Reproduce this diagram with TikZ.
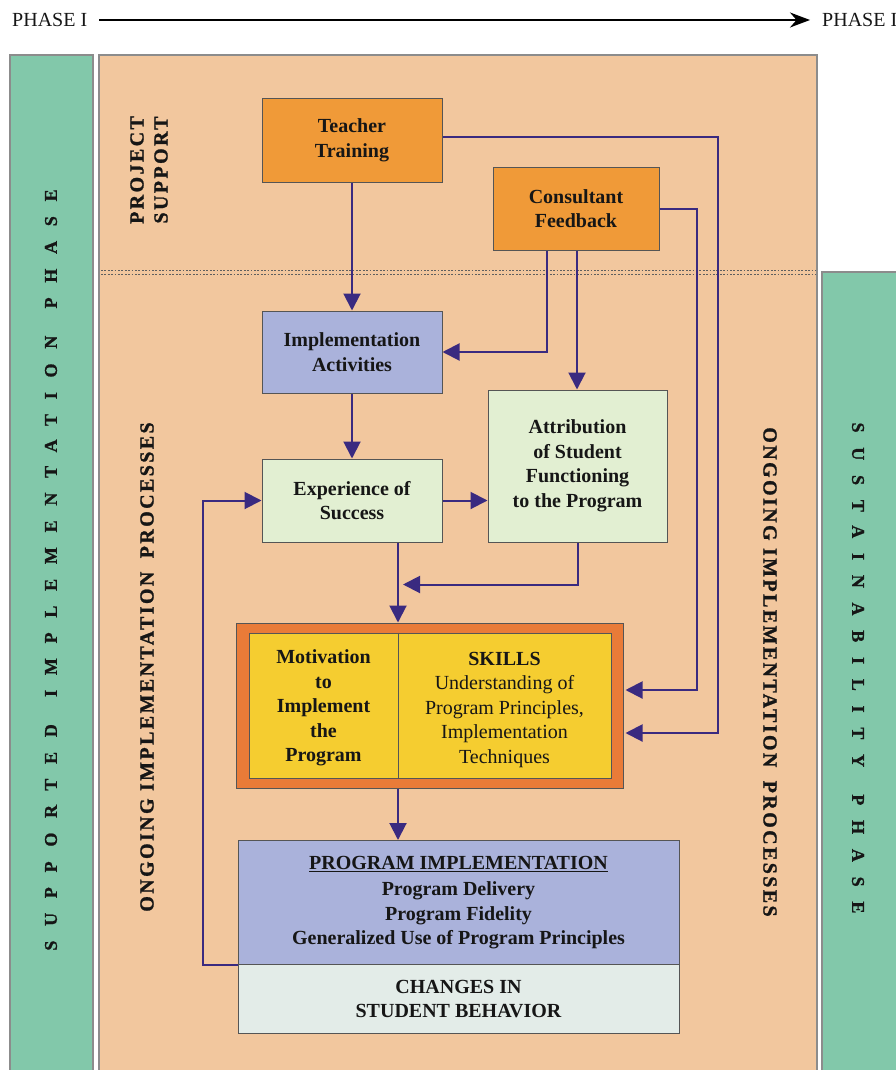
\documentclass[tikz,border=0pt]{standalone}
\usepackage{fontspec}
\setmainfont{Liberation Serif}
\newfontfamily\trackedbold[LetterSpace=12, FakeBold=1.2]{Liberation Serif Bold}
\newfontfamily\phasebold[LetterSpace=82, FakeBold=1]{Liberation Serif Bold}
\usetikzlibrary{arrows.meta}

\definecolor{phasegreen}{HTML}{82C8AA}
\definecolor{panelpeach}{HTML}{F2C79E}
\definecolor{supportorange}{HTML}{F09A38}
\definecolor{lavender}{HTML}{AAB2DB}
\definecolor{palegreen}{HTML}{E2EFD2}
\definecolor{skillrim}{HTML}{E97B38}
\definecolor{skillfill}{HTML}{F5CD30}
\definecolor{palegrey}{HTML}{E3ECE8}
\definecolor{flowblue}{HTML}{3A2A80}
\definecolor{edgegrey}{HTML}{555555}
\definecolor{panelrim}{HTML}{8C8C8C}
\definecolor{dotgrey}{HTML}{5E5E5E}
\definecolor{ink}{HTML}{161616}

\newcommand{\boxfont}{\fontsize{20}{24.5}\selectfont\bfseries}
\newcommand{\plainfont}{\fontsize{20}{24.5}\selectfont}

\begin{document}
\begin{tikzpicture}[x=1pt,y=-1pt,
  every node/.style={text=ink},
  panel/.style={draw=panelrim, line width=1.2pt},
  box/.style={draw=edgegrey, line width=1pt, align=center, inner sep=0pt, font=\boxfont},
  arr/.style={draw=flowblue, line width=2pt, -{Triangle[length=17pt,width=17pt]}},
  dotrow/.style={draw=dotgrey, line width=1.8pt, dash pattern=on 1.8pt off 1.6pt},
  sidelabel/.style={font=\trackedbold\fontsize{20}{24}\selectfont},
  phaselabel/.style={font=\phasebold\fontsize{18}{22}\selectfont}]

\clip (0,0) rectangle (896,1070);

% header timeline
\node[font=\plainfont, anchor=west, inner sep=0pt] (p1) at (12,20) {PHASE I};
\node[font=\plainfont, anchor=west, inner sep=0pt] (p2) at (822,20) {PHASE I};
\draw[line width=1.8pt, -{Stealth[length=20pt,width=15pt]}] ([xshift=12pt]p1.east) -- ([xshift=-12pt]p2.west);

% background panels
\fill[phasegreen] (10,55) rectangle (93,1080);
\draw[panel] (10,1080) -- (10,55) -- (93,55) -- (93,1080);
\fill[panelpeach] (99,55) rectangle (817,1080);
\draw[panel] (99,1080) -- (99,55) -- (817,55) -- (817,1080);
\fill[phasegreen] (822,272) rectangle (905,1080);
\draw[panel] (822,1080) -- (822,272) -- (905,272);

% boundary between project support and ongoing processes
\draw[dotrow] (101,270.5) -- (816,270.5);
\draw[dotrow] (101,274.5) -- (816,274.5);

% side labels
\node[phaselabel, rotate=90] (sup) at (51,570) {SUPPORTED\hspace{8pt} IMPLEMENTATION\hspace{8pt} PHASE};
\node[phaselabel, rotate=-90] (sus) at (858,668) {SUSTAINABILITY\hspace{8pt} PHASE};
\node[sidelabel, rotate=90, align=center] (ps) at (149,170) {PROJECT\\SUPPORT};
\node[sidelabel, rotate=90] (oipl) at (147,667) {ONGOING IMPLEMENTATION\hspace{6pt} PROCESSES};
\node[sidelabel, rotate=-90] (oipr) at (770,672) {ONGOING IMPLEMENTATION\hspace{6pt} PROCESSES};

% process boxes
\node[box, fill=supportorange, minimum width=180pt, minimum height=83pt] (tt) at (352,140.5) {Teacher\\Training};
\node[box, fill=supportorange, minimum width=166pt, minimum height=83pt] (cf) at (576,208.5) {Consultant\\Feedback};
\node[box, fill=lavender, minimum width=180pt, minimum height=82pt] (ia) at (352,352) {Implementation\\Activities};
\node[box, fill=palegreen, minimum width=180pt, minimum height=83pt] (es) at (352,500.5) {Experience of\\Success};
\node[box, fill=palegreen, minimum width=179pt, minimum height=152pt] (at) at (577.5,466) {Attribution\\of Student\\Functioning\\to the Program};

% motivation and skills
\node[box, fill=skillrim, minimum width=387pt, minimum height=165pt] (so) at (429.5,705.5) {};
\node[box, fill=skillfill, minimum width=362pt, minimum height=145pt] (si) at (430,705.5) {};
\draw[edgegrey, line width=1pt] ([xshift=-32pt]si.north) -- ([xshift=-32pt]si.south);
\node[font=\boxfont, align=center] (mot) at (323.5,708) {Motivation\\to\\Implement\\the\\Program};
\node[font=\plainfont, align=center] (skl) at (504.5,709.5) {\textbf{SKILLS}\\Understanding of\\Program Principles,\\Implementation\\Techniques};

% implementation outcome
\node[box, fill=lavender, minimum width=441pt, minimum height=124pt] (pi) at (458.5,902.5)
  {\underline{PROGRAM IMPLEMENTATION}\\[2pt]Program Delivery\\Program Fidelity\\Generalized Use of Program Principles};
\node[box, fill=palegrey, minimum width=441pt, minimum height=69pt] (ch) at (458.5,999) {CHANGES IN\\STUDENT BEHAVIOR};

% connectors
\draw[arr] (tt.south) -- (ia.north);
\draw[arr] ([yshift=3.5pt]tt.east) -- ++(275,0) |- ([yshift=-27.5pt,xshift=2pt]so.east);
\draw[arr] (cf.east) -- ++(37,0) |- ([yshift=15.5pt,xshift=2pt]so.east);
\draw[arr] ([xshift=-29pt]cf.south) |- (ia.east);
\draw[arr] ([xshift=1pt]cf.south) -- ([xshift=1pt]cf.south |- at.north);
\draw[arr] (ia.south) -- (es.north);
\draw[arr] (es.east) -- (es.east -| at.west);
\draw[arr] ([xshift=46pt]es.south) -- ([xshift=46pt]es.south |- so.north);
\draw[arr] (at.south) |- ([xshift=51pt,yshift=-42pt]es.south);
\draw[arr] ([xshift=-31.5pt]so.south) -- ([xshift=-31.5pt]so.south |- pi.north);
\draw[arr] (pi.south west) -- ++(-35,0) |- (es.west);

\end{tikzpicture}
\end{document}
